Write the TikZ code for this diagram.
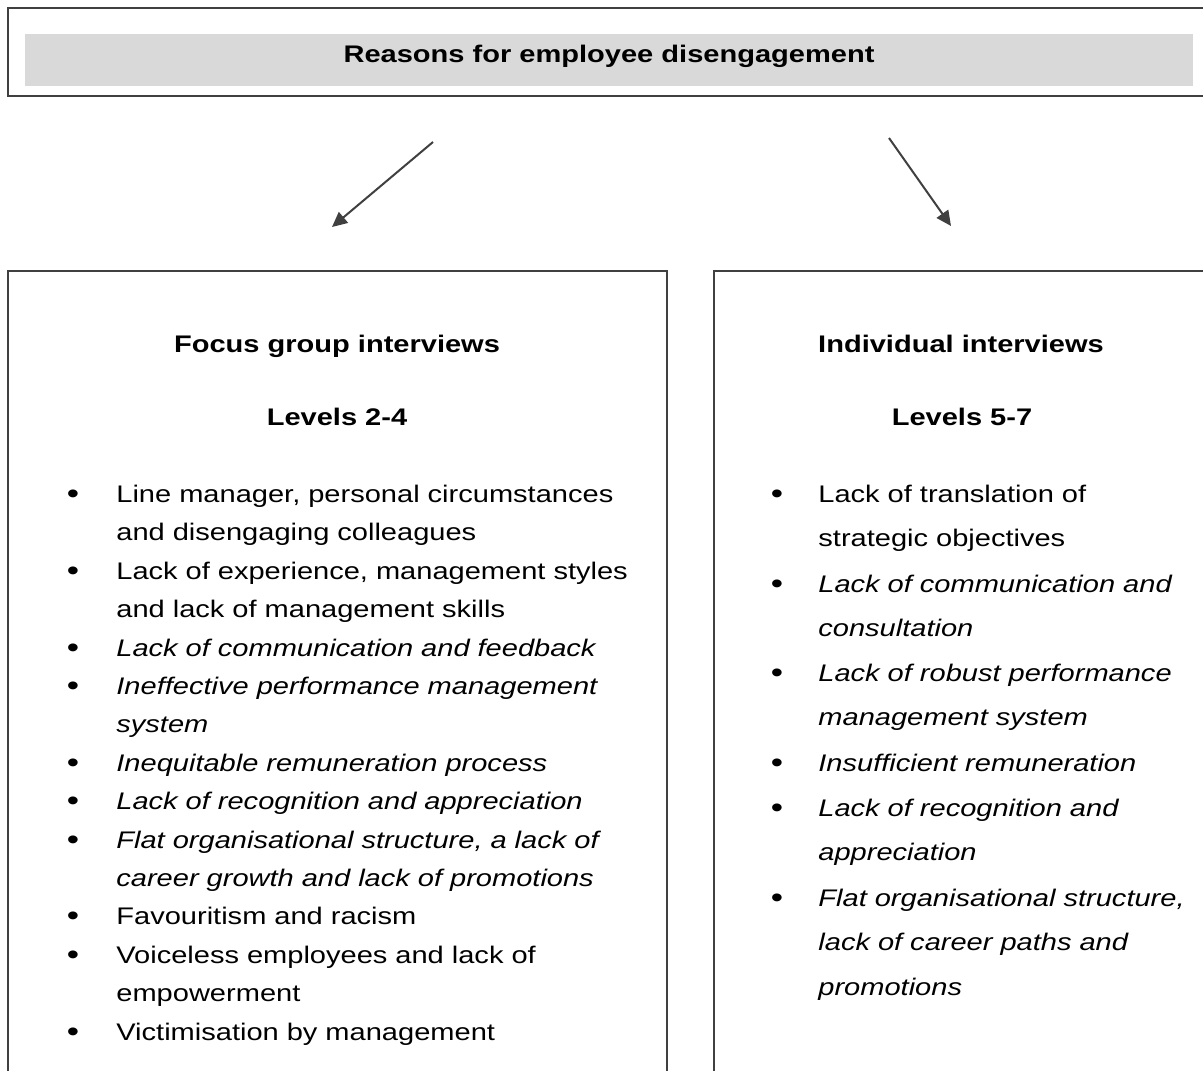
\documentclass[tikz,border=0pt]{standalone}
\usepackage{fontspec}
\setmainfont{Liberation Sans}[FakeStretch=1.21]
\usetikzlibrary{arrows.meta}
\definecolor{edge}{RGB}{64,64,64}
\definecolor{band}{RGB}{217,217,217}

\begin{document}
\begin{tikzpicture}[x=0.5pt,y=-0.5pt,>={Triangle[length=7.5pt,width=7pt]},
  every node/.style={inner sep=0pt,font=\fontsize{12}{14}\selectfont},
  head/.style={anchor=base,font=\fontsize{12}{14}\selectfont\bfseries},
  dot/.style={anchor=base,yshift=-0.6pt,font=\fontsize{14.5}{16}\selectfont},
  itemL/.style={anchor=base west,text width=290pt,align=left,
    font=\fontsize{12}{19.2}\selectfont},
  itemR/.style={anchor=base west,text width=215pt,align=left,
    font=\fontsize{12}{22.4}\selectfont}]
  \useasboundingbox (0,0) rectangle (1203,1070);
  \clip (0,0) rectangle (1203,1070);
  % top box
  \draw[edge,line width=1.1pt] (8,8) rectangle (1220,96);
  \fill[band] (25,34) rectangle (1193,86);
  \node[head] (title) at (609,63) {Reasons for employee disengagement};
  % arrows
  \coordinate (la) at (433,142);
  \coordinate (lb) at (332,227);
  \coordinate (ra) at (889,138);
  \coordinate (rb) at (951,226);
  \draw[->,edge,line width=1pt] (la) -- (lb);
  \draw[->,edge,line width=1pt] (ra) -- (rb);
  % left box
  \draw[edge,line width=1pt] (8,1090) -- (8,271) -- (667,271) -- (667,1090);
  \node[head] (fgi) at (337,352) {Focus group interviews};
  \node[head] (lvl24) at (337,425) {Levels 2-4};
  \node[dot] (lb1) at (73,502) {\textbullet};
  \node[itemL] (li1) at (116,502) {Line manager, personal circumstances\\and disengaging colleagues};
  \node[dot] (lb2) at (73,579) {\textbullet};
  \node[itemL] (li2) at (116,579) {Lack of experience, management styles\\and lack of management skills};
  \node[dot] (lb3) at (73,656) {\textbullet};
  \node[itemL] (li3) at (116,656) {\itshape Lack of communication and feedback};
  \node[dot] (lb4) at (73,694) {\textbullet};
  \node[itemL] (li4) at (116,694) {\itshape Ineffective performance management\\system};
  \node[dot] (lb5) at (73,771) {\textbullet};
  \node[itemL] (li5) at (116,771) {\itshape Inequitable remuneration process};
  \node[dot] (lb6) at (73,809) {\textbullet};
  \node[itemL] (li6) at (116,809) {\itshape Lack of recognition and appreciation};
  \node[dot] (lb7) at (73,848) {\textbullet};
  \node[itemL] (li7) at (116,848) {\itshape Flat organisational structure, a lack of\\career growth and lack of promotions};
  \node[dot] (lb8) at (73,924) {\textbullet};
  \node[itemL] (li8) at (116,924) {Favouritism and racism};
  \node[dot] (lb9) at (73,963) {\textbullet};
  \node[itemL] (li9) at (116,963) {Voiceless employees and lack of\\empowerment};
  \node[dot] (lb10) at (73,1040) {\textbullet};
  \node[itemL] (li10) at (116,1040) {Victimisation by management};
  % right box
  \draw[edge,line width=1pt] (714,1090) -- (714,271) -- (1220,271);
  \node[head] (ind) at (961,352) {Individual interviews};
  \node[head] (lvl57) at (962,425) {Levels 5-7};
  \node[dot] (rb1) at (777,502) {\textbullet};
  \node[itemR] (ri1) at (818,502) {Lack of translation of\\strategic objectives};
  \node[dot] (rb2) at (777,592) {\textbullet};
  \node[itemR] (ri2) at (818,592) {\itshape Lack of communication and\\consultation};
  \node[dot] (rb3) at (777,681) {\textbullet};
  \node[itemR] (ri3) at (818,681) {\itshape Lack of robust performance\\management system};
  \node[dot] (rb4) at (777,771) {\textbullet};
  \node[itemR] (ri4) at (818,771) {\itshape Insufficient remuneration};
  \node[dot] (rb5) at (777,816) {\textbullet};
  \node[itemR] (ri5) at (818,816) {\itshape Lack of recognition and\\appreciation};
  \node[dot] (rb6) at (777,906) {\textbullet};
  \node[itemR] (ri6) at (818,906) {\itshape Flat organisational structure,\\lack of career paths and\\promotions};
\end{tikzpicture}
\end{document}
